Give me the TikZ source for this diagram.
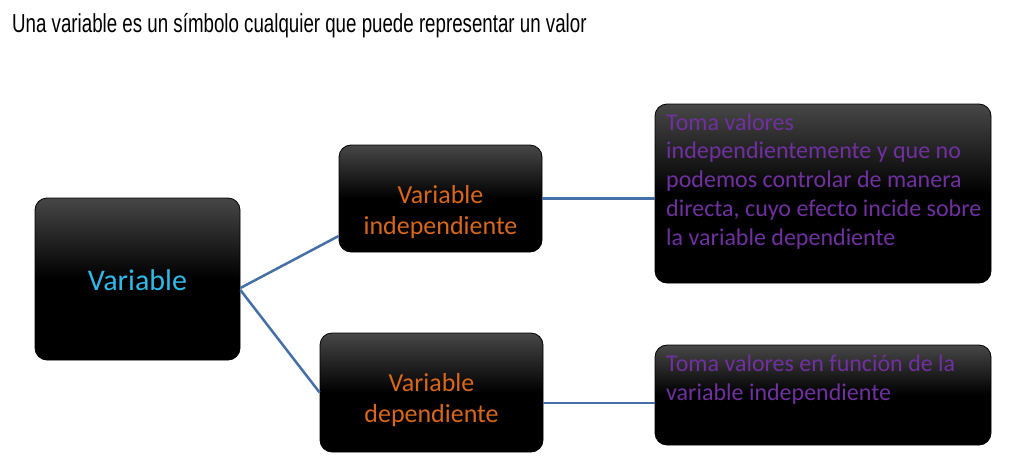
\documentclass[tikz,border=0pt]{standalone}
\usepackage{fontspec}
\setmainfont{Carlito}
\newfontfamily\titlefont[FakeStretch=0.72]{Liberation Sans}
\definecolor{cyanT}{HTML}{2FB9E9}
\definecolor{orangeT}{HTML}{D8671A}
\definecolor{purpleT}{HTML}{7030A0}
\definecolor{linkblue}{HTML}{4470A6}
\definecolor{boxtop}{HTML}{474747}
\begin{document}
\begin{tikzpicture}[x=1pt,y=-1pt,
  box/.style={draw=black, line width=0.8pt, rounded corners=12pt, top color=boxtop, bottom color=black, middle color=black, inner sep=0pt},
  link/.style={draw=linkblue, line width=2.5pt},
  lbl/.style={inner sep=0pt, anchor=base}]
\useasboundingbox[fill=white] (0,0) rectangle (1026,472);
\node[anchor=base west, inner sep=0pt] (title) at (12,32) {\titlefont\fontsize{26}{30}\selectfont Una variable es un símbolo cualquier que puede representar un valor};
\node[box, minimum width=205pt, minimum height=162pt] (var) at (137.5,279) {};
\node[box, minimum width=203pt, minimum height=107pt] (ind) at (440.5,198.5) {};
\node[box, minimum width=223pt, minimum height=119pt] (dep) at (431.5,392.5) {};
\node[box, minimum width=336pt, minimum height=179pt] (d1) at (823,193.5) {};
\node[box, minimum width=336pt, minimum height=100pt] (d2) at (823,395) {};
\node[lbl, text=cyanT, font=\fontsize{30}{36}\selectfont] (tvar) at (137.5,290) {Variable};
\node[lbl, text=orangeT] (tind) at (440.5,203) {\parbox[t]{200pt}{\centering\fontsize{26}{31}\selectfont Variable\\independiente}};
\node[lbl, text=orangeT] (tdep) at (431.5,391) {\parbox[t]{220pt}{\centering\fontsize{26}{31}\selectfont Variable\\dependiente}};
\node[lbl, anchor=base west, text=purpleT] (td1) at (666,130) {\parbox[t]{330pt}{\raggedright\fontsize{24}{28.8}\selectfont Toma valores\\independientemente y que no\\podemos controlar de manera\\directa, cuyo efecto incide sobre\\la variable dependiente}};
\node[lbl, anchor=base west, text=purpleT] (td2) at (666,371) {\parbox[t]{330pt}{\raggedright\fontsize{24}{29}\selectfont Toma valores en función de la\\variable independiente}};
\draw[link] ([yshift=-9pt]var.east) -- ([yshift=-37.5pt]ind.west);
\draw[link] ([yshift=-11pt]var.east) -- (dep.west);
\draw[link] (ind.east) -- (ind.east -| d1.west);
\draw[link] ([yshift=-10.5pt]dep.east) -- ([yshift=-10.5pt]dep.east -| d2.west);
\end{tikzpicture}
\end{document}
